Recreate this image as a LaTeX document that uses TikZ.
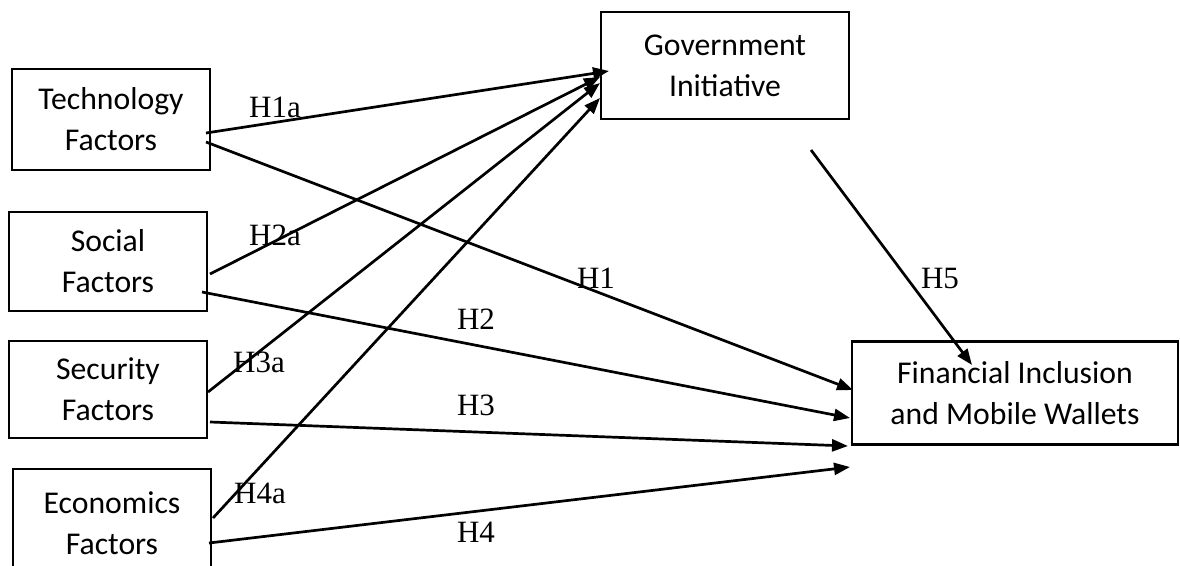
\documentclass[tikz,border=0pt]{standalone}
\usepackage{fontspec}
\setmainfont{Carlito}
\newfontfamily\labfont{Liberation Serif}
\usetikzlibrary{arrows.meta}
\begin{document}
\begin{tikzpicture}[x=1pt,y=-1pt,
  box/.style={draw,line width=2.9pt,inner sep=0pt,outer sep=0pt,align=center,
    font=\fontsize{31.7pt}{41pt}\selectfont},
  arr/.style={line width=2.7pt,-{Triangle[length=16pt,width=12pt]}},
  hlab/.style={font=\labfont\fontsize{31pt}{31pt}\selectfont,inner sep=0pt}]
\useasboundingbox (0,0) rectangle (1180,565);
\node[box,minimum width=198pt,minimum height=101pt] (tech) at (111,119.5) {Technology\\Factors};
\node[box,minimum width=198pt,minimum height=99pt] (soc) at (108,261.5) {Social\\Factors};
\node[box,minimum width=198pt,minimum height=97pt] (sec) at (108,389.5) {Security\\Factors};
\node[box,minimum width=198pt,minimum height=108pt] (eco) at (112,523) {Economics\\Factors};
\node[box,minimum width=248pt,minimum height=107pt] (gov) at (725,65.5) {Government\\Initiative};
\node[box,minimum width=326pt,minimum height=102.5pt] (fin) at (1015,393) {Financial Inclusion\\and Mobile Wallets};
\coordinate (g5) at (811,150);
\draw[arr] ([shift={(-4,13.5)}]tech.east) -- ([shift={(8,5.5)}]gov.west);
\draw[arr] ([shift={(-4,22.5)}]tech.east) -- ([shift={(1,-3)}]fin.west);
\draw[arr] ([shift={(3,12.5)}]soc.east) -- ([shift={(-1,11.5)}]gov.west);
\draw[arr] ([shift={(-5,30.5)}]soc.east) -- ([shift={(-2,25)}]fin.west);
\draw[arr] ([shift={(1,2.5)}]sec.east) -- ([shift={(-1,17.5)}]gov.west);
\draw[arr] ([shift={(3,32.5)}]sec.east) -- ([shift={(-4,53)}]fin.west);
\draw[arr] ([shift={(2,-5)}]eco.east) -- ([shift={(-1,32.5)}]gov.west);
\draw[arr] ([shift={(-2,20)}]eco.east) -- ([shift={(-2,74)}]fin.west);
\draw[arr] (g5) -- ([shift={(-43,-28)}]fin.center);
\node[hlab] (l1a) at (275,107) {H1a};
\node[hlab] (l2a) at (275,235) {H2a};
\node[hlab] (l1) at (596,278) {H1};
\node[hlab] (l5) at (940,278) {H5};
\node[hlab] (l2) at (476,319) {H2};
\node[hlab] (l3a) at (259,362) {H3a};
\node[hlab] (l3) at (476,405) {H3};
\node[hlab] (l4a) at (260,493) {H4a};
\node[hlab] (l4) at (476,532) {H4};
\end{tikzpicture}
\end{document}
